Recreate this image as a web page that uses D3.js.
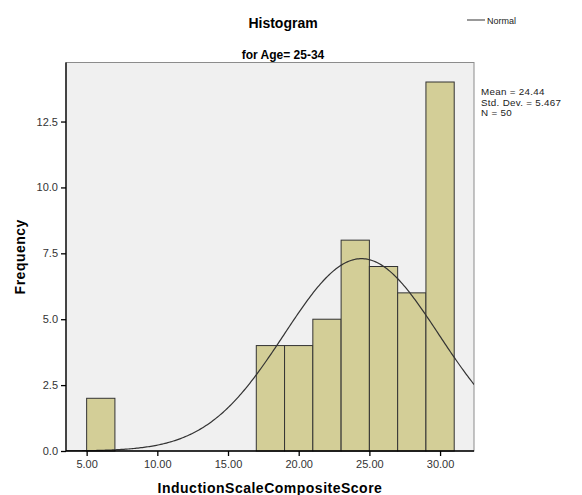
<!DOCTYPE html>
<html>
<head>
<meta charset="utf-8">
<script src="https://cdn.jsdelivr.net/npm/d3@7"></script>
<style>
  body { margin: 0; background: #fff; }
  text { font-family: "Liberation Sans", Arial, sans-serif; }
</style>
</head>
<body>
<div id="container"></div>
<script>
// bins (lower edge, upper edge) and counts
const binStart = [5, 17, 19, 21, 23, 25, 27, 29];
const binEnd = [7, 19, 21, 23, 25, 27, 29, 31];
const counts = [2, 4, 4, 5, 8, 7, 6, 14];
const xTicks = [5, 10, 15, 20, 25, 30];
const yTicks = [0, 2.5, 5, 7.5, 10, 12.5];
const mean = 24.44, sd = 5.467, n = 50;

const width = 582, height = 495;
const margin = { top: 62.5, left: 66, right: 108, bottom: 44 };

const svg = d3.select('#container').append('svg')
  .attr('width', width).attr('height', height);

const x = d3.scaleLinear().domain([3.54, 32.4]).range([margin.left, width - margin.right]);
const y = d3.scaleLinear().domain([0, 14.74]).range([height - margin.bottom, margin.top]);

// plot background
svg.append('rect')
  .attr('x', margin.left).attr('y', margin.top)
  .attr('width', x.range()[1] - margin.left)
  .attr('height', y.range()[0] - margin.top)
  .attr('fill', '#f0f0f0')
  .attr('stroke', '#8c8c8c').attr('stroke-width', 1);

svg.append('defs').append('clipPath').attr('id', 'clip')
  .append('rect')
  .attr('x', margin.left).attr('y', margin.top)
  .attr('width', x.range()[1] - margin.left)
  .attr('height', y.range()[0] - margin.top);

// bars
svg.append('g').selectAll('rect')
  .data(counts)
  .enter().append('rect')
  .attr('x', (d, i) => x(binStart[i]))
  .attr('width', (d, i) => x(binEnd[i]) - x(binStart[i]))
  .attr('y', d => y(d))
  .attr('height', d => y(0) - y(d))
  .attr('fill', '#d3ce97')
  .attr('stroke', '#333')
  .attr('stroke-width', 1);

// normal curve scaled to counts (bin width 2)
const bw = 2;
const normal = v => n * bw / (sd * Math.sqrt(2 * Math.PI)) * Math.exp(-0.5 * ((v - mean) / sd) ** 2);
const xs = d3.range(x.domain()[0], x.domain()[1] + 0.05, 0.1);
svg.append('path')
  .datum(xs)
  .attr('clip-path', 'url(#clip)')
  .attr('fill', 'none')
  .attr('stroke', '#333')
  .attr('stroke-width', 1.2)
  .attr('d', d3.line().x(d => x(d)).y(d => y(normal(d))));

// axes
const xAxis = svg.append('g')
  .attr('transform', `translate(0,${y(0)})`)
  .call(d3.axisBottom(x).tickValues(xTicks).tickSize(5).tickSizeOuter(0).tickFormat(d3.format('.2f')));
const yAxis = svg.append('g')
  .attr('transform', `translate(${margin.left},0)`)
  .call(d3.axisLeft(y).tickValues(yTicks).tickSize(5).tickSizeOuter(0).tickFormat(d3.format('.1f')));

[xAxis, yAxis].forEach(a => {
  a.select('.domain').attr('stroke', '#000').attr('stroke-width', 1.3);
  a.selectAll('.tick line').attr('stroke', '#000').attr('stroke-width', 1.3);
  a.selectAll('.tick text').attr('fill', '#333').style('font-size', '11px');
});
xAxis.select('.domain').attr('d', `M${margin.left},0H${x.range()[1]}`);
yAxis.select('.domain').attr('d', `M0,${y(0)}V${margin.top}`);
xAxis.selectAll('.tick text').attr('dy', '0.85em');

// titles
svg.append('text').attr('x', 283).attr('y', 28)
  .attr('text-anchor', 'middle').style('font-size', '14px').style('font-weight', 'bold')
  .text('Histogram');
svg.append('text').attr('x', 283).attr('y', 59)
  .attr('text-anchor', 'middle').style('font-size', '12px').style('font-weight', 'bold')
  .text('for Age= 25-34');

svg.append('text').attr('x', (margin.left + x.range()[1]) / 2).attr('y', 493)
  .attr('text-anchor', 'middle').style('font-size', '14px').style('font-weight', 'bold')
  .style('letter-spacing', '0.5px')
  .text('InductionScaleCompositeScore');
svg.append('text')
  .attr('transform', `translate(25,${(margin.top + y(0)) / 2}) rotate(-90)`)
  .attr('text-anchor', 'middle').style('font-size', '14px').style('font-weight', 'bold')
  .style('letter-spacing', '0.5px')
  .text('Frequency');

// legend
svg.append('line').attr('x1', 467).attr('x2', 485).attr('y1', 20).attr('y2', 20)
  .attr('stroke', '#555').attr('stroke-width', 1.2);
svg.append('text').attr('x', 487).attr('y', 23.5)
  .style('font-size', '9px').attr('fill', '#222').text('Normal');

// stats
const stats = [`Mean = ${mean.toFixed(2)}`, `Std. Dev. = ${sd.toFixed(3)}`, `N = ${n}`];
svg.append('g').selectAll('text')
  .data(stats).enter().append('text')
  .attr('x', 481).attr('y', (d, i) => 95 + i * 10.5)
  .style('font-size', '9.8px').style('letter-spacing', '0.3px').attr('fill', '#222')
  .text(d => d);
</script>
</body>
</html>
